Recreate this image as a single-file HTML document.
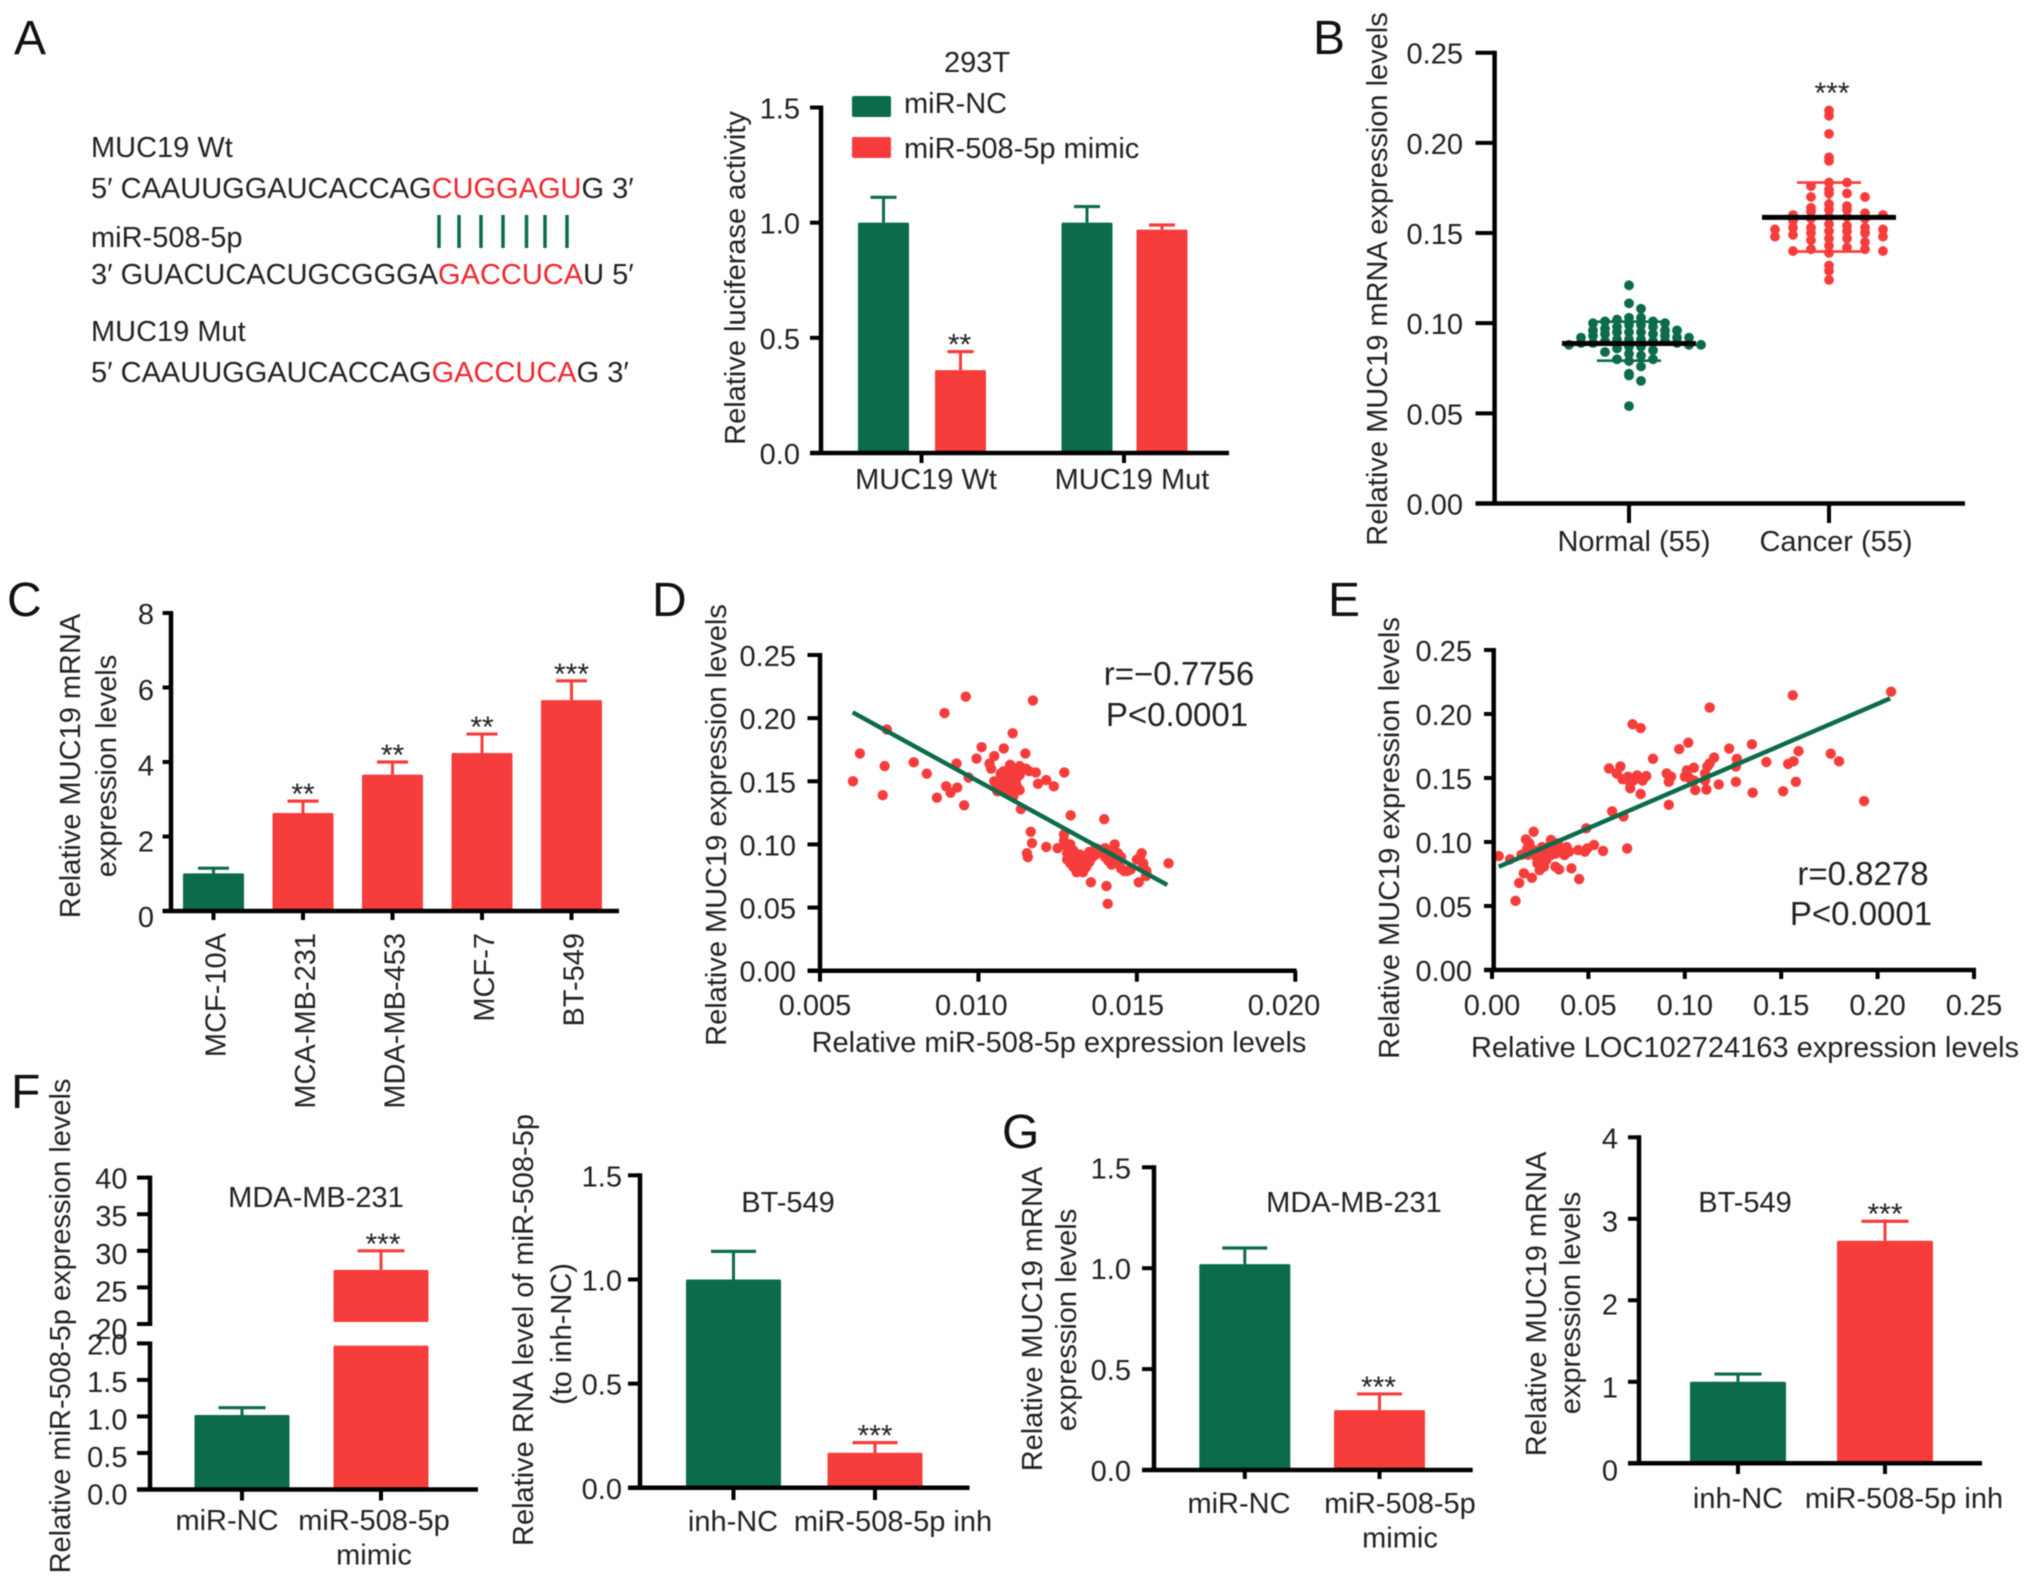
<!DOCTYPE html>
<html lang="en">
<head>
<meta charset="utf-8">
<title>MUC19 and miR-508-5p expression figure</title>
<style>
html,body{margin:0;padding:0;background:#fff;width:2031px;height:1584px;overflow:hidden}
svg{display:block;filter:blur(.6px)}
text{font-family:"Liberation Sans",Arial,sans-serif;font-size:29px;fill:#222}
.pl{font-size:48px;fill:#111}
.ann{font-size:33px}
.red{fill:#f0262e}
</style>
</head>
<body>
<svg id="fig" xmlns="http://www.w3.org/2000/svg" width="2031" height="1584" viewBox="0 0 2031 1584">
  <rect x="0" y="0" width="2031" height="1584" fill="#fff"/>

  <text class="pl" x="14" y="54">A</text>
  <text class="pl" x="1313" y="54">B</text>
  <text class="pl" x="7" y="616">C</text>
  <text class="pl" x="652" y="616">D</text>
  <text class="pl" x="1328" y="616">E</text>
  <text class="pl" x="11" y="1108">F</text>
  <text class="pl" x="1002" y="1148">G</text>

  <g>
    <text x="91" y="157">MUC19 Wt</text>
    <text x="91" y="198">5′ CAAUUGGAUCACCAG<tspan class="red">CUGGAGU</tspan>G 3′</text>
    <text x="91" y="247">miR-508-5p</text>
    <text x="91" y="284">3′ GUACUCACUGCGGGA<tspan class="red">GACCUCA</tspan>U 5′</text>
    <text x="91" y="341">MUC19 Mut</text>
    <text x="91" y="382">5′ CAAUUGGAUCACCAG<tspan class="red">GACCUCA</tspan>G 3′</text>
    <g stroke="#0b6b4a" stroke-width="3.5">
      <line x1="439" y1="215" x2="439" y2="248"/>
      <line x1="459" y1="215" x2="459" y2="248"/>
      <line x1="481" y1="215" x2="481" y2="248"/>
      <line x1="503" y1="215" x2="503" y2="248"/>
      <line x1="526.5" y1="215" x2="526.5" y2="248"/>
      <line x1="545" y1="215" x2="545" y2="248"/>
      <line x1="567" y1="215" x2="567" y2="248"/>
    </g>
  </g>

  <text x="977" y="72" text-anchor="middle">293T</text>
  <rect x="852" y="96" width="39" height="21" rx="2" fill="#0b6b4a"/>
  <text x="904" y="113">miR-NC</text>
  <rect x="852" y="137" width="39" height="21" rx="2" fill="#f73c3c"/>
  <text x="904" y="158">miR-508-5p mimic</text>
  <text transform="translate(745,278) rotate(-90)" text-anchor="middle">Relative luciferase activity</text>

  <text transform="translate(1387,279) rotate(-90)" text-anchor="middle">Relative MUC19 mRNA expression levels</text>

  <g>
    <text transform="translate(80,766) rotate(-90)" text-anchor="middle">Relative MUC19 mRNA</text>
    <text transform="translate(116,766) rotate(-90)" text-anchor="middle">expression levels</text>
  </g>

  <text transform="translate(726,825) rotate(-90)" text-anchor="middle">Relative MUC19 expression levels</text>
  <text x="1059" y="1052" text-anchor="middle">Relative miR-508-5p expression levels</text>
  <text class="ann" x="1179" y="685" text-anchor="middle">r=−0.7756</text>
  <text class="ann" x="1177" y="726" text-anchor="middle">P&lt;0.0001</text>

  <text transform="translate(1399,838) rotate(-90)" text-anchor="middle">Relative MUC19 expression levels</text>
  <text x="1745" y="1057" text-anchor="middle">Relative LOC102724163 expression levels</text>
  <text class="ann" x="1863" y="885" text-anchor="middle">r=0.8278</text>
  <text class="ann" x="1861" y="925" text-anchor="middle">P&lt;0.0001</text>

  <text x="316" y="1207" text-anchor="middle">MDA-MB-231</text>
  <text transform="translate(70,1326) rotate(-90)" text-anchor="middle">Relative miR-508-5p expression levels</text>
  <text x="788" y="1212" text-anchor="middle">BT-549</text>
  <g>
    <text transform="translate(533,1330) rotate(-90)" text-anchor="middle">Relative RNA level of miR-508-5p</text>
    <text transform="translate(571,1334) rotate(-90)" text-anchor="middle">(to inh-NC)</text>
  </g>

  <text x="1354" y="1212" text-anchor="middle">MDA-MB-231</text>
  <g>
    <text transform="translate(1042,1319) rotate(-90)" text-anchor="middle">Relative MUC19 mRNA</text>
    <text transform="translate(1076,1320) rotate(-90)" text-anchor="middle">expression levels</text>
  </g>
  <text x="1745" y="1212" text-anchor="middle">BT-549</text>
  <g>
    <text transform="translate(1546,1304) rotate(-90)" text-anchor="middle">Relative MUC19 mRNA</text>
    <text transform="translate(1580,1303) rotate(-90)" text-anchor="middle">expression levels</text>
  </g>
</svg>

<script>
// ---------- Panel A ----------
const aCategories = ['MUC19 Wt', 'MUC19 Mut'];
const aNc = [1.0, 1.0];
const aNcErr = [1.11, 1.07];
const aMimic = [0.36, 0.97];
const aMimicErr = [0.44, 0.99];
const aTicks = [0, 0.5, 1.0, 1.5];
const aTickLabels = ['0.0', '0.5', '1.0', '1.5'];

// ---------- Panel B ----------
const bCategories = ['Normal (55)', 'Cancer (55)'];
const bNormal = [.121,.111,.108,.103,.103,.102,.101,.101,.100,.100,.099,.099,.098,.098,.097,.096,.096,.096,.095,.095,.095,.094,.094,.093,.093,.092,.092,.092,.091,.091,.091,.090,.090,.090,.089,.089,.089,.088,.088,.088,.087,.087,.086,.085,.084,.083,.082,.080,.080,.079,.076,.072,.071,.068,.054];
const bCancer = [.218,.215,.205,.192,.190,.178,.178,.176,.174,.172,.172,.170,.170,.166,.165,.164,.163,.163,.162,.161,.160,.160,.159,.159,.158,.158,.157,.155,.154,.153,.153,.153,.152,.152,.151,.151,.150,.150,.149,.148,.148,.147,.147,.146,.145,.143,.142,.141,.141,.140,.140,.139,.132,.129,.124];
const bMeans = [0.0887, 0.1587];
const bSdLow = [0.0792, 0.1397];
const bSdHigh = [0.1008, 0.178];
const bTicks = [0, 0.05, 0.10, 0.15, 0.20, 0.25];
const bTickLabels = ['0.00', '0.05', '0.10', '0.15', '0.20', '0.25'];

// ---------- Panel C ----------
const cCategories = ['MCF-10A', 'MCA-MB-231', 'MDA-MB-453', 'MCF-7', 'BT-549'];
const cValues = [1.01, 2.63, 3.66, 4.24, 5.66];
const cErrTop = [1.15, 2.95, 4.0, 4.75, 6.18];
const cStars = ['', '**', '**', '**', '***'];
const cTicks = [0, 2, 4, 6, 8];
const cTickLabels = ['0', '2', '4', '6', '8'];

// ---------- Panel D ----------
const dMir = [.00604,.00626,.00704,.00711,.00698,.00796,.00837,.00893,.0096,.00869,.00898,.00912,.00933,.00931,.00969,.00955,.00994,.0101,.0108,.0105,.01035,.0104,.01148,.01108,.01172,.01181,.01271,.01188,.01214,.01238,.01134,.01291,.01397,.01165,.01169,.01153,.01156,.01214,.0125,.01355,.01404,.01408,.016,.01506,.01529,.01515,
 .0105,.0106,.0106,.0107,.0107,.0108,.0108,.0108,.0109,.0109,.0110,.0110,.0110,.0111,.0111,.0111,.0112,.0112,.0112,.0113,.0113,.0113,.0114,.0115,.0116,.0110,
 .0127,.0127,.0128,.0128,.0128,.0129,.0129,.0130,.0130,.0130,.0131,.0131,.0132,.0132,.0133,.0133,.0134,.0134,.0135,.0135,.0136,.0137,.0137,.0138,.0139,.0140,.0140,.0141,.0141,.0142,.0142,.0143,.0143,.0144,.0144,.0145,.0145,.0146,.0147,.0148,.0150,.0151,.0152,.0153,.0152,.0153];
const dMuc = [.150,.172,.162,.191,.139,.165,.156,.204,.217,.137,.146,.141,.145,.164,.153,.131,.168,.177,.176,.170,.164,.160,.172,.188,.214,.157,.157,.148,.151,.146,.128,.123,.120,.110,.101,.093,.090,.098,.097,.070,.067,.053,.085,.070,.075,.093,
 .150,.146,.142,.156,.152,.148,.144,.158,.150,.146,.160,.153,.141,.149,.145,.138,.158,.152,.147,.162,.155,.143,.160,.160,.158,.163,
 .108,.103,.098,.093,.088,.100,.085,.095,.090,.082,.087,.078,.092,.084,.078,.088,.091,.082,.094,.086,.090,.097,.092,.096,.093,.097,.090,.095,.087,.092,.084,.100,.088,.093,.085,.090,.081,.079,.079,.080,.088,.090,.083,.079,.085,.078];
const dFitX = [0.00603, 0.01596];
const dFitY = [0.2046, 0.0679];
const dXTicks = [0.005, 0.010, 0.015, 0.020];
const dXTickLabels = ['0.005', '0.010', '0.015', '0.020'];
const dYTicks = [0, 0.05, 0.10, 0.15, 0.20, 0.25];
const dYTickLabels = ['0.00', '0.05', '0.10', '0.15', '0.20', '0.25'];

// ---------- Panel E ----------
const eLoc = [.0035,.0122,.0141,.207,.156,.1129,.0729,.0771,.1018,.0971,.1348,.123,.0835,.1152,.127,.1423,.159,.1564,.1536,.1757,.180,.1576,.151,.1352,.1265,.193,.0917,.1176,.0623,.0682,.0489,.0701,.0576,.0529,.0452,.0412,
 .0607,.0666,.0647,.0677,.0706,.0717,.0717,.0753,.0771,.0781,.080,.0736,
 .0906,.0917,.0929,.100,.1011,.1047,.1047,.1054,.1105,.1117,.1105,.1112,.1129,.1023,.1265,
 .0094,.0165,.0207,.0176,.0216,.0193,.0212,.0153,.0188,.023,.0259,.0235,.0259,.0282,.027,.0247,.0306,.0318,.0294,.0341,.0329,.0353,.0329,.0348,.0376,.04,.0388,.0447,.0494,.0482,.0223,.0306,.0282,.0259,.0183];
const eMuc = [.089,.054,.068,.2174,.2146,.205,.192,.189,.1776,.1726,.1763,.173,.165,.166,.165,.1625,.171,.163,.161,.169,.163,.147,.1396,.1385,.147,.132,.129,.145,.124,.120,.1107,.095,.093,.0977,.071,.0794,
 .1575,.159,.1536,.149,.151,.146,.142,.152,.1375,.148,.1515,.1484,
 .1536,.147,.151,.151,.156,.158,.148,.1406,.1536,.159,.148,.141,.1615,.150,.159,
 .0865,.0755,.072,.102,.108,.099,.094,.090,.090,.0885,.096,.0833,.0872,.0924,.0807,.078,.1016,.0977,.0963,.099,.091,.0937,.0807,.0786,.0898,.0924,.096,.0937,.095,.0924,.0924,.0898,.0859,.0911,.095];
const eFitX = [0.0035, 0.2065];
const eFitY = [0.0807, 0.2122];
const eXTicks = [0, 0.05, 0.10, 0.15, 0.20, 0.25];
const eXTickLabels = ['0.00', '0.05', '0.10', '0.15', '0.20', '0.25'];
const eYTicks = [0, 0.05, 0.10, 0.15, 0.20, 0.25];
const eYTickLabels = ['0.00', '0.05', '0.10', '0.15', '0.20', '0.25'];

// ---------- Panel F left (broken axis) ----------
const f1Categories = ['miR-NC', 'miR-508-5p\nmimic'];
const f1Values = [1.02, 27.4];
const f1ErrTop = [1.12, 30];
const f1Stars = ['', '***'];
const f1TicksLow = [0, 0.5, 1.0, 1.5, 2.0];
const f1LabelsLow = ['0.0', '0.5', '1.0', '1.5', '2.0'];
const f1TicksHigh = [20, 25, 30, 35, 40];
const f1LabelsHigh = ['20', '25', '30', '35', '40'];

// ---------- Panel F right ----------
const f2Categories = ['inh-NC', 'miR-508-5p inh'];
const f2Values = [1.0, 0.168];
const f2ErrTop = [1.135, 0.217];
const f2Stars = ['', '***'];
const f2Ticks = [0, 0.5, 1.0, 1.5];
const f2TickLabels = ['0.0', '0.5', '1.0', '1.5'];

// ---------- Panel G left ----------
const g1Categories = ['miR-NC', 'miR-508-5p\nmimic'];
const g1Values = [1.02, 0.297];
const g1ErrTop = [1.10, 0.377];
const g1Stars = ['', '***'];
const g1Ticks = [0, 0.5, 1.0, 1.5];
const g1TickLabels = ['0.0', '0.5', '1.0', '1.5'];

// ---------- Panel G right ----------
const g2Categories = ['inh-NC', 'miR-508-5p inh'];
const g2Values = [1.0, 2.73];
const g2ErrTop = [1.095, 2.97];
const g2Stars = ['', '***'];
const g2Ticks = [0, 1, 2, 3, 4];
const g2TickLabels = ['0', '1', '2', '3', '4'];

const GREEN = '#0b6b4a';
const RED = '#f73c3c';
const NS = 'http://www.w3.org/2000/svg';
const fig = document.getElementById('fig');

function lin(d0, d1, r0, r1) {
  return v => r0 + (v - d0) * (r1 - r0) / (d1 - d0);
}
function group(name) {
  const el = document.createElementNS(NS, 'g');
  
  
  fig.appendChild(el);
  return el;
}
function seg(p, name, x1, y1, x2, y2, w, color) {
  const el = document.createElementNS(NS, 'line');
  
  
  el.setAttribute('x1', x1);
  el.setAttribute('y1', y1);
  el.setAttribute('x2', x2);
  el.setAttribute('y2', y2);
  el.setAttribute('stroke', w ? color : 'none');
  el.setAttribute('stroke-width', w);
  p.appendChild(el);
  return el;
}
function box(p, name, x, y, w, h, color) {
  const el = document.createElementNS(NS, 'rect');
  
  
  el.setAttribute('x', x);
  el.setAttribute('y', y);
  el.setAttribute('width', w);
  el.setAttribute('height', h);
  el.setAttribute('rx', 1.5);
  el.setAttribute('fill', color);
  p.appendChild(el);
  return el;
}
function dot(p, name, cx, cy, r, color) {
  const el = document.createElementNS(NS, 'circle');
  
  
  el.setAttribute('cx', cx);
  el.setAttribute('cy', cy);
  el.setAttribute('r', r);
  el.setAttribute('fill', color);
  p.appendChild(el);
  return el;
}
function label(p, name, str, x, y, anchor, size) {
  const el = document.createElementNS(NS, 'text');
  
  
  el.setAttribute('x', x);
  el.setAttribute('y', y);
  el.setAttribute('text-anchor', anchor);
  if (size) el.setAttribute('style', 'font-size:' + size + 'px');
  el.textContent = str;
  p.appendChild(el);
  return el;
}
function rotLabel(p, name, str, x, y) {
  const el = document.createElementNS(NS, 'text');
  
  
  el.setAttribute('transform', 'translate(' + x + ',' + y + ') rotate(-90)');
  el.setAttribute('text-anchor', 'end');
  el.textContent = str;
  p.appendChild(el);
  return el;
}
function yAxis(p, c) {
  seg(p, 'y-axis-line', c.x, c.lineTop, c.x, c.lineBottom, 4.5, '#000');
  c.ticks.forEach((t, i) => {
    const y = c.scale(t);
    seg(p, 'y-tick', c.tickLeft, y, c.x, y, 4, '#000');
    const drift = (c.drift || 0) * (1 - i / Math.max(1, c.ticks.length - 1));
    label(p, 'y-tick-label', c.labels[i], c.labelRight, y + 11 + drift, 'end');
  });
}
function xAxisLine(p, x1, x2, y) {
  seg(p, 'x-axis-line', x1, y, x2, y, 4.5, '#000');
}
function xTick(p, x, y0, y1) {
  seg(p, 'x-tick', x, y0, x, y1, 4, '#000');
}
function catLabels(p, cats, xOf, y) {
  cats.forEach((c, i) => {
    c.split('\n').forEach((ln, k) => {
      label(p, 'x-category-label', ln, xOf(i), y + k * 34.5, 'middle');
    });
  });
}
function bar(p, name, cx, w, yv, yBase, color) {
  box(p, name, cx - w / 2, yv, w, yBase - yv, color);
}
function errBar(p, cx, yv, yTop, capW, color) {
  seg(p, 'error-bar-stem', cx, yv, cx, yTop, 3, color);
  seg(p, 'error-bar-cap', cx - capW / 2, yTop, cx + capW / 2, yTop, 3.2, color);
}
function stars(p, s, cx, yTop) {
  if (s) label(p, 'significance-stars', s, cx, yTop + 3, 'middle', 30);
}

// Panel A
(function () {
  const p = group('panel-a-bar-chart');
  const y = lin(0, 1.5, 453, 107.5);
  const gc = [0, 1].map(lin(0, 1, 922, 1124.5));
  aCategories.forEach((c, i) => {
    const cxN = gc[i] - 38.5 + (i ? 1 : 0);
    const cxM = gc[i] + 38.5 - (i ? 1 : 0);
    bar(p, 'bar-mir-nc', cxN, 51, y(aNc[i]), 453, GREEN);
    errBar(p, cxN, y(aNc[i]), y(aNcErr[i]), 26, GREEN);
    bar(p, 'bar-mimic', cxM, 51, y(aMimic[i]), 453, RED);
    errBar(p, cxM, y(aMimic[i]), y(aMimicErr[i]), 26, RED);
    if (i === 0) stars(p, '**', cxM - 1, y(aMimicErr[i]));
    xTick(p, gc[i] - 0.5, 453, 463);
  });
  xAxisLine(p, 810, 1229, 453);
  yAxis(p, { x: 821, lineTop: 105.5, lineBottom: 455, tickLeft: 810, ticks: aTicks, labels: aTickLabels, scale: y, labelRight: 800 });
  catLabels(p, aCategories, lin(0, 1, 926, 1132), 489);
})();

// Panel B
(function () {
  const p = group('panel-b-dot-plot');
  const y = lin(0, 0.25, 503.5, 52.7);
  const xc = lin(0, 1, 1629, 1829);
  function swarm(vals, center, color, name, bin, step) {
    const counts = {};
    vals.forEach(v => {
      const b = Math.floor(v / bin);
      const n = counts[b] || 0;
      counts[b] = n + 1;
      const off = (n % 2 ? 1 : -1) * Math.ceil(n / 2) * step;
      dot(p, name, center + off, y(v), 4.9, color);
    });
  }
  swarm(bNormal, xc(0), GREEN, 'normal-sample-point', 0.004, 12);
  swarm(bCancer, xc(1), RED, 'cancer-sample-point', 0.004, 18);
  [GREEN, RED].forEach((col, i) => {
    const cx = xc(i);
    seg(p, 'sd-stem', cx, y(bSdLow[i]), cx, y(bSdHigh[i]), 2.6, col);
    seg(p, 'sd-cap-high', cx - 32, y(bSdHigh[i]), cx + 32, y(bSdHigh[i]), 2.6, col);
    seg(p, 'sd-cap-low', cx - 32, y(bSdLow[i]), cx + 32, y(bSdLow[i]), 2.6, col);
    seg(p, 'mean-line', cx - 67, y(bMeans[i]), cx + 67, y(bMeans[i]), 5, '#000');
    xTick(p, cx, 503.5, 523);
  });
  label(p, 'significance-stars', '***', 1832, 103, 'middle', 30);
  xAxisLine(p, 1475.5, 1965, 503.5);
  yAxis(p, { x: 1494.6, lineTop: 50.7, lineBottom: 505.5, tickLeft: 1475.5, ticks: bTicks, labels: bTickLabels, scale: y, labelRight: 1463 });
  catLabels(p, bCategories, lin(0, 1, 1634, 1836), 551);
})();

// Panel C
(function () {
  const p = group('panel-c-bar-chart');
  const y = lin(0, 8, 911, 613);
  const xc = lin(0, 4, 213.5, 571.5);
  cCategories.forEach((c, i) => {
    const cx = xc(i);
    const col = i === 0 ? GREEN : RED;
    bar(p, 'bar-cell-line', cx, 61, y(cValues[i]), 911, col);
    errBar(p, cx, y(cValues[i]), y(cErrTop[i]), 31, col);
    stars(p, cStars[i], cx, y(cErrTop[i]));
    xTick(p, cx, 911, 920);
    rotLabel(p, 'x-category-label', c, cx + 12, 933);
  });
  xAxisLine(p, 162.6, 619, 911);
  yAxis(p, { x: 171, lineTop: 611, lineBottom: 913, tickLeft: 162.6, ticks: cTicks, labels: cTickLabels, scale: y, labelRight: 154, drift: 5 });
})();

// Panel D
(function () {
  const p = group('panel-d-scatter');
  const x = lin(0.005, 0.020, 820, 1295.3);
  const xl = lin(0.005, 0.020, 815, 1284);
  const y = lin(0, 0.25, 970.7, 655);
  dMir.forEach((v, i) => {
    dot(p, 'sample-point', x(v), y(dMuc[i]), 5.2, RED);
  });
  seg(p, 'regression-line', x(dFitX[0]), y(dFitY[0]), x(dFitX[1]), y(dFitY[1]), 4.5, GREEN);
  xAxisLine(p, 807.5, 1296.6, 970.7);
  dXTicks.forEach((t, i) => {
    xTick(p, x(t), 970.7, 981.7);
    label(p, 'x-tick-label', dXTickLabels[i], xl(t), 1015, 'middle');
  });
  yAxis(p, { x: 820, lineTop: 653, lineBottom: 972.7, tickLeft: 807.5, ticks: dYTicks, labels: dYTickLabels, scale: y, labelRight: 796 });
})();

// Panel E
(function () {
  const p = group('panel-e-scatter');
  const x = lin(0, 0.25, 1492, 1974);
  const y = lin(0, 0.25, 970, 650);
  eLoc.forEach((v, i) => {
    dot(p, 'sample-point', x(v), y(eMuc[i]), 5.2, RED);
  });
  seg(p, 'regression-line', x(eFitX[0]), y(eFitY[0]), x(eFitX[1]), y(eFitY[1]), 4.5, GREEN);
  xAxisLine(p, 1484, 1976, 970);
  eXTicks.forEach((t, i) => {
    xTick(p, x(t), 970, 979);
    label(p, 'x-tick-label', eXTickLabels[i], x(t), 1015, 'middle');
  });
  yAxis(p, { x: 1493.7, lineTop: 648, lineBottom: 972, tickLeft: 1484, ticks: eYTicks, labels: eYTickLabels, scale: y, labelRight: 1472 });
})();

// Panel F left — broken y axis
(function () {
  const p = group('panel-f1-bar-chart');
  const low = lin(0, 2, 1489.5, 1343.4);
  const high = lin(20, 40, 1324, 1177.6);
  const y = v => (v <= 2 ? low(v) : high(v));
  const xc = lin(0, 1, 242, 381);
  f1Categories.forEach((c, i) => {
    const cx = xc(i);
    const col = i === 0 ? GREEN : RED;
    if (f1Values[i] > 2) {
      bar(p, 'bar-lower-segment', cx, 95, low(1.97), 1489.5, col);
      bar(p, 'bar-upper-segment', cx, 95, y(f1Values[i]), high(20) - 2, col);
    } else {
      bar(p, 'bar', cx, 95, y(f1Values[i]), 1489.5, col);
    }
    errBar(p, cx, y(f1Values[i]), y(f1ErrTop[i]), 47, col);
    stars(p, f1Stars[i], cx + 2, y(f1ErrTop[i]));
    xTick(p, cx, 1489.5, 1500.5);
  });
  xAxisLine(p, 137, 478, 1489.5);
  yAxis(p, { x: 150, lineTop: 1341.5, lineBottom: 1491.5, tickLeft: 137, ticks: f1TicksLow, labels: f1LabelsLow, scale: low, labelRight: 127.5, drift: 4 });
  yAxis(p, { x: 150, lineTop: 1175.6, lineBottom: 1326, tickLeft: 137, ticks: f1TicksHigh, labels: f1LabelsHigh, scale: high, labelRight: 127.5, drift: 4 });
  catLabels(p, f1Categories, lin(0, 1, 227, 374), 1530);
})();

// Panel F right
(function () {
  const p = group('panel-f2-bar-chart');
  const y = lin(0, 1.5, 1487.8, 1175.3);
  const xc = lin(0, 1, 733.5, 875);
  f2Categories.forEach((c, i) => {
    const cx = xc(i);
    const col = i === 0 ? GREEN : RED;
    bar(p, 'bar', cx, 95, y(f2Values[i]), 1487.8, col);
    errBar(p, cx, y(f2Values[i]), y(f2ErrTop[i]), 45, col);
    stars(p, f2Stars[i], cx, y(f2ErrTop[i]));
    xTick(p, cx, 1487.8, 1500);
  });
  xAxisLine(p, 628, 969.5, 1487.8);
  yAxis(p, { x: 640, lineTop: 1173.3, lineBottom: 1489.8, tickLeft: 628, ticks: f2Ticks, labels: f2TickLabels, scale: y, labelRight: 622 });
  catLabels(p, f2Categories, lin(0, 1, 733, 893), 1531);
})();

// Panel G left
(function () {
  const p = group('panel-g1-bar-chart');
  const y = lin(0, 1.5, 1470, 1167.3);
  const xc = lin(0, 1, 1244.8, 1379.5);
  g1Categories.forEach((c, i) => {
    const cx = xc(i);
    const col = i === 0 ? GREEN : RED;
    bar(p, 'bar', cx, 91, y(g1Values[i]), 1470, col);
    errBar(p, cx, y(g1Values[i]), y(g1ErrTop[i]), 45, col);
    stars(p, g1Stars[i], cx - 1, y(g1ErrTop[i]));
    xTick(p, cx, 1470, 1479);
  });
  xAxisLine(p, 1142, 1472.7, 1470);
  yAxis(p, { x: 1154, lineTop: 1165.3, lineBottom: 1472, tickLeft: 1142, ticks: g1Ticks, labels: g1TickLabels, scale: y, labelRight: 1131 });
  catLabels(p, g1Categories, lin(0, 1, 1239, 1400), 1513);
})();

// Panel G right
(function () {
  const p = group('panel-g2-bar-chart');
  const y = lin(0, 4, 1463.3, 1137.3);
  const xc = lin(0, 1, 1738, 1885);
  g2Categories.forEach((c, i) => {
    const cx = xc(i);
    const col = i === 0 ? GREEN : RED;
    bar(p, 'bar', cx, 96, y(g2Values[i]), 1463.3, col);
    errBar(p, cx, y(g2Values[i]), y(g2ErrTop[i]), 47, col);
    stars(p, g2Stars[i], cx, y(g2ErrTop[i]));
    xTick(p, cx, 1463.3, 1474);
  });
  xAxisLine(p, 1628, 1982, 1463.3);
  yAxis(p, { x: 1639, lineTop: 1135.3, lineBottom: 1465.3, tickLeft: 1628, ticks: g2Ticks, labels: g2TickLabels, scale: y, labelRight: 1618, drift: 6 });
  catLabels(p, g2Categories, lin(0, 1, 1738, 1904), 1508);
})();
</script>
</body>
</html>
